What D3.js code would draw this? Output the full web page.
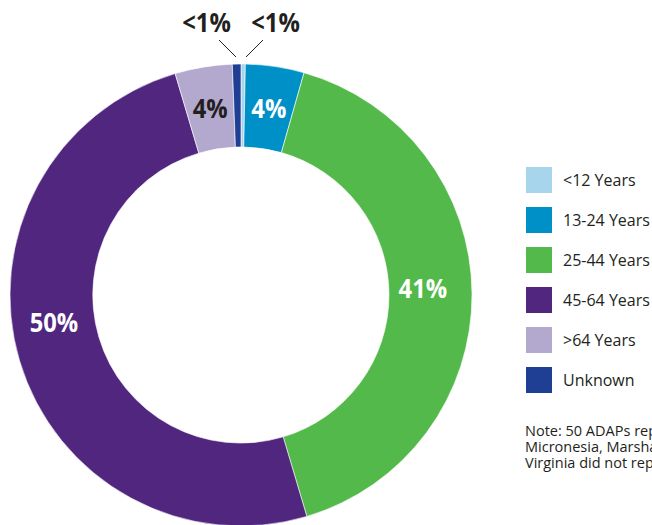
<!DOCTYPE html>
<html>
<head>
<meta charset="utf-8">
<script src="https://cdn.jsdelivr.net/npm/d3@7"></script>
<style>
  body { margin: 0; background: #fff; overflow: hidden; }
  svg { display: block; }
</style>
</head>
<body>
<script>
//Age groups and their share of clients (percent).
var ageGroups = ["<12 Years", "13-24 Years", "25-44 Years", "45-64 Years", ">64 Years", "Unknown"];
var agePercents = [0.3, 4.1, 41.0, 50.0, 4.0, 0.6];
var ageLabels = ["<1%", "4%", "41%", "50%", "4%", "<1%"];
var sliceColors = ["#a6d5ec", "#0090c8", "#52b94a", "#50267f", "#b3a8ce", "#1f3f94"];
var labelColors = ["#231f20", "#ffffff", "#ffffff", "#ffffff", "#231f20", "#231f20"];
var noteLines = [
  "Note: 50 ADAPs reported data. The Federated States of",
  "Micronesia, Marshall Islands, Palau, and West",
  "Virginia did not report."
];

//Chart size and donut geometry.
var width = 652, height = 525;
var cx = 241, cy = 295;
var outerR = 231, innerR = 148;

var svg = d3.select("body").append("svg").attr("width", width).attr("height", height);

var rows = ageGroups.map(function(g, i) {
  return { group: g, value: agePercents[i], label: ageLabels[i], color: sliceColors[i], textColor: labelColors[i], i: i };
});

var pie = d3.pie().sort(null).value(function(d) { return d.value; });
var arc = d3.arc().innerRadius(innerR).outerRadius(outerR);
var arcs = pie(rows);

var donut = svg.append("g").attr("transform", "translate(" + cx + "," + cy + ")");

//Slices.
donut.selectAll("path.slice")
  .data(arcs)
  .enter().append("path")
  .attr("class", "slice")
  .attr("d", arc)
  .attr("fill", function(d) { return d.data.color; })
  .attr("stroke", "#ffffff")
  .attr("stroke-width", 0.6);

//Condensed bold look: squeeze Open Sans Bold sideways.
function boldLabel(parent, x, y, txt, color) {
  var g = parent.append("g").attr("transform", "translate(" + x + "," + y + ") scale(0.88,1)");
  g.append("text")
    .attr("text-anchor", "middle")
    .attr("dy", "0.36em")
    .attr("font-family", "'Open Sans', sans-serif")
    .attr("font-weight", "bold")
    .attr("font-size", 27)
    .attr("fill", color)
    .text(txt);
}

//Labels inside the big slices (small slices get call-outs).
var labelR = 189;
var angleShift = { 2: -0.03, 3: 0.145 };//Small nudges along the ring.
arcs.filter(function(d) { return d.data.value >= 1; }).forEach(function(d) {
  var a = (d.startAngle + d.endAngle) / 2 + (angleShift[d.data.i] || 0);
  var r = d.data.i === 2 ? 182 : labelR;
  boldLabel(donut, r * Math.sin(a), -r * Math.cos(a), d.data.label, d.data.textColor);
});

//Call-outs for the tiny slices.
arcs.filter(function(d) { return d.data.value < 1; }).forEach(function(d) {
  var side = d.startAngle < Math.PI ? 1 : -1;
  donut.append("line")
    .attr("x1", side * 5).attr("y1", -238)
    .attr("x2", side * 22).attr("y2", -255)
    .attr("stroke", "#231f20")
    .attr("stroke-width", 1);
  boldLabel(donut, side * 34.5, -273, d.data.label, "#231f20");
});

//Legend.
var legend = svg.append("g").attr("transform", "translate(526,167)");
var legendRow = legend.selectAll("g.row")
  .data(rows)
  .enter().append("g")
  .attr("class", "row")
  .attr("transform", function(d, i) { return "translate(0," + (i * 40) + ")"; });

legendRow.append("rect")
  .attr("width", 26)
  .attr("height", 26)
  .attr("fill", function(d) { return d.color; });

legendRow.append("text")
  .attr("x", 37)
  .attr("y", 13)
  .attr("dy", "0.35em")
  .attr("font-family", "'Open Sans', sans-serif")
  .attr("font-size", 16)
  .attr("fill", "#231f20")
  .text(function(d) { return d.group; });

//Note text (runs off the right edge like the original).
svg.append("g")
  .selectAll("text")
  .data(noteLines)
  .enter().append("text")
  .attr("x", 525)
  .attr("y", function(d, i) { return 436 + i * 16; })
  .attr("font-family", "'Open Sans', sans-serif")
  .attr("font-size", 14.5)
  .attr("fill", "#231f20")
  .text(function(d) { return d; });
</script>
</body>
</html>
